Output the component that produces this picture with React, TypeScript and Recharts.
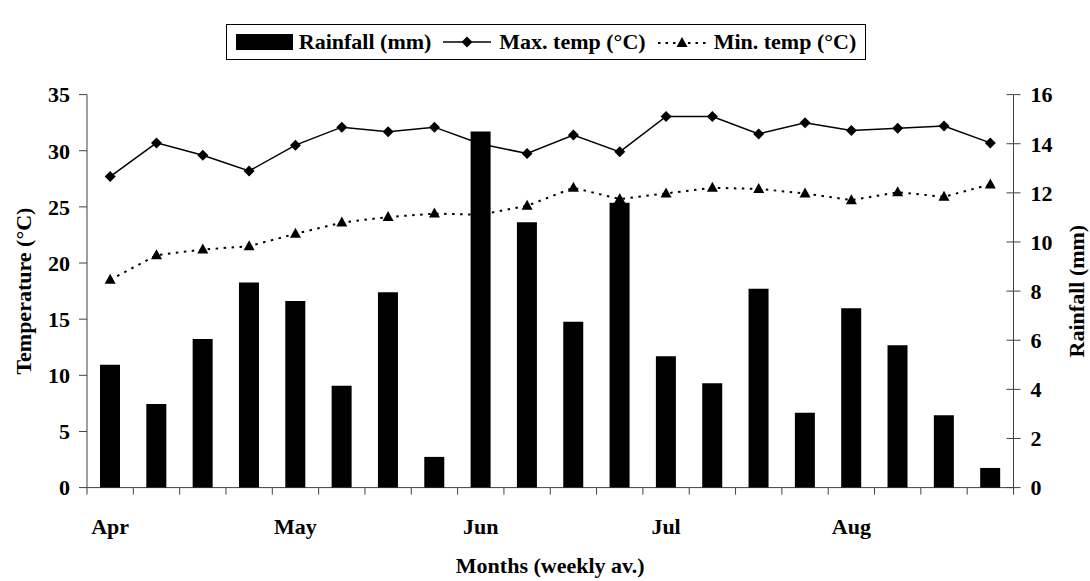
import { Bar, ComposedChart, Label, Line, XAxis, YAxis } from "recharts";

const weeks = [1, 2, 3, 4, 5, 6, 7, 8, 9, 10, 11, 12, 13, 14, 15, 16, 17, 18, 19, 20];
const monthLabels = ["Apr", "", "", "", "May", "", "", "", "Jun", "", "", "", "Jul", "", "", "", "Aug", "", "", ""];
const rainfall = [5.0, 3.4, 6.05, 8.35, 7.6, 4.15, 7.95, 1.25, 14.5, 10.8, 6.75, 11.6, 5.35, 4.25, 8.1, 3.05, 7.3, 5.8, 2.95, 0.8];
const maxTemp = [27.7, 30.7, 29.6, 28.2, 30.5, 32.1, 31.7, 32.1, 30.6, 29.75, 31.4, 29.9, 33.05, 33.05, 31.5, 32.5, 31.8, 32.0, 32.2, 30.7];
const minTemp = [18.5, 20.7, 21.2, 21.5, 22.6, 23.6, 24.1, 24.4, 24.3, 25.1, 26.7, 25.7, 26.2, 26.7, 26.6, 26.2, 25.6, 26.3, 25.9, 27.0];
const tempTicks = [0, 5, 10, 15, 20, 25, 30, 35];
const rainTicks = [0, 2, 4, 6, 8, 10, 12, 14, 16];

const data = weeks.map((week, i) => ({
  week,
  rainfall: rainfall[i],
  maxTemp: maxTemp[i],
  minTemp: minTemp[i],
}));

const FONT = '"Liberation Serif", "Times New Roman", serif';
const AXIS = "#404040";
const X_TICK = 7;
const R_TICK = 7;
const R_MARGIN = 10;

const textStyle = { fontFamily: FONT, fontWeight: "bold" as const, fontSize: 22, fill: "#000" };

function Diamond(props: any) {
  const { cx, cy } = props;
  if (cx == null || cy == null) return <g key={props.index} />;
  const r = 5.5;
  return (
    <polygon
      key={props.index}
      points={`${cx},${cy - r} ${cx + r},${cy} ${cx},${cy + r} ${cx - r},${cy}`}
      fill="#000"
    />
  );
}

function Triangle(props: any) {
  const { cx, cy } = props;
  if (cx == null || cy == null) return <g key={props.index} />;
  return (
    <polygon
      key={props.index}
      points={`${cx},${cy - 6} ${cx + 5.5},${cy + 4} ${cx - 5.5},${cy + 4}`}
      fill="#000"
    />
  );
}

function MonthTick(props: any) {
  const { x, y, payload, index, visibleTicksCount, width } = props;
  const half = payload?.offset || width / visibleTicksCount / 2;
  const axisY = y - X_TICK;
  const label = monthLabels[index];
  return (
    <g>
      <line x1={x - half} x2={x - half} y1={axisY} y2={axisY + X_TICK} stroke={AXIS} />
      {index === visibleTicksCount - 1 && (
        <line x1={x + half} x2={x + half} y1={axisY} y2={axisY + X_TICK} stroke={AXIS} />
      )}
      {label && (
        <text x={x} y={axisY + 38.5} textAnchor="middle" dominantBaseline="central" {...textStyle}>
          {label}
        </text>
      )}
    </g>
  );
}

function RainTick(props: any) {
  const { x, y, payload } = props;
  const axisX = x - R_TICK - R_MARGIN;
  return (
    <g>
      <line x1={axisX - R_TICK} x2={axisX} y1={y} y2={y} stroke={AXIS} />
      <text x={x} y={y} dy="0.355em" textAnchor="start" {...textStyle}>
        {payload.value}
      </text>
    </g>
  );
}

function SideTitle({ viewBox, value, dx }: any) {
  const cx = viewBox.x + dx;
  const cy = viewBox.y + viewBox.height / 2;
  return (
    <text
      x={cx}
      y={cy}
      transform={`rotate(-90 ${cx} ${cy})`}
      textAnchor="middle"
      dominantBaseline="central"
      {...textStyle}
    >
      {value}
    </text>
  );
}

function LegendBox() {
  return (
    <div
      style={{
        position: "absolute",
        left: 226,
        top: 24,
        width: 640,
        height: 36,
        boxSizing: "border-box",
        border: "1px solid #000",
        display: "flex",
        alignItems: "center",
        justifyContent: "center",
        fontFamily: FONT,
        fontWeight: "bold",
        fontSize: 22,
        whiteSpace: "nowrap",
      }}
    >
      <svg width={57} height={16} style={{ marginRight: 6 }}>
        <rect x={0} y={0} width={57} height={16} fill="#000" />
      </svg>
      <span>Rainfall (mm)</span>
      <svg width={48} height={14} style={{ margin: "0 8px 0 12px" }}>
        <line x1={0} x2={48} y1={7} y2={7} stroke="#000" strokeWidth={1.5} />
        <Diamond cx={24} cy={7} />
      </svg>
      <span>Max. temp (°C)</span>
      <svg width={48} height={14} style={{ margin: "0 8px 0 12px" }}>
        <line x1={0} x2={48} y1={8} y2={8} stroke="#000" strokeWidth={2} strokeDasharray="2.5 5" />
        <Triangle cx={24} cy={8} />
      </svg>
      <span>Min. temp (°C)</span>
    </div>
  );
}

export default function App() {
  return (
    <div style={{ position: "absolute", left: 0, top: 0, width: 1090, height: 581, background: "#fff" }}>
      <LegendBox />
      <ComposedChart
        width={1090}
        height={581}
        data={data}
        margin={{ top: 94.6, right: 0, bottom: 0, left: 0 }}
      >
        <XAxis
          dataKey="week"
          type="category"
          height={93.4}
          interval={0}
          tickLine={false}
          tickSize={X_TICK}
          tickMargin={0}
          stroke={AXIS}
          tick={<MonthTick />}
        >
          <Label
            content={(p: any) => (
              <text
                x={p.viewBox.x + p.viewBox.width / 2}
                y={p.viewBox.y + 78}
                textAnchor="middle"
                dominantBaseline="central"
                {...textStyle}
              >
                Months (weekly av.)
              </text>
            )}
          />
        </XAxis>
        <YAxis
          yAxisId="temp"
          orientation="left"
          width={87}
          domain={[0, 35]}
          ticks={tempTicks}
          interval={0}
          tickSize={8}
          tickMargin={9}
          stroke={AXIS}
          tick={textStyle}
        >
          <Label content={(p: any) => <SideTitle viewBox={p.viewBox} value="Temperature (°C)" dx={24} />} />
        </YAxis>
        <YAxis
          yAxisId="rain"
          orientation="right"
          width={76.5}
          domain={[0, 16]}
          ticks={rainTicks}
          interval={0}
          tickSize={R_TICK}
          tickMargin={R_MARGIN}
          stroke={AXIS}
          tick={<RainTick />}
        >
          <Label content={(p: any) => <SideTitle viewBox={p.viewBox} value="Rainfall (mm)" dx={63.5} />} />
        </YAxis>
        <Line
          yAxisId="temp"
          dataKey="maxTemp"
          stroke="#000"
          strokeWidth={1.5}
          dot={(p: any) => <Diamond key={`mx-${p.index}`} {...p} />}
          activeDot={false}
          isAnimationActive={false}
        />
        <Line
          yAxisId="temp"
          dataKey="minTemp"
          stroke="#000"
          strokeWidth={2}
          strokeDasharray="2.5 5.5"
          dot={(p: any) => <Triangle key={`mn-${p.index}`} {...p} />}
          activeDot={false}
          isAnimationActive={false}
        />
        <Bar
          yAxisId="rain"
          dataKey="rainfall"
          fill="#000"
          barSize={20}
          isAnimationActive={false}
          {...({ zIndex: 500 } as any)}
        />
      </ComposedChart>
    </div>
  );
}
